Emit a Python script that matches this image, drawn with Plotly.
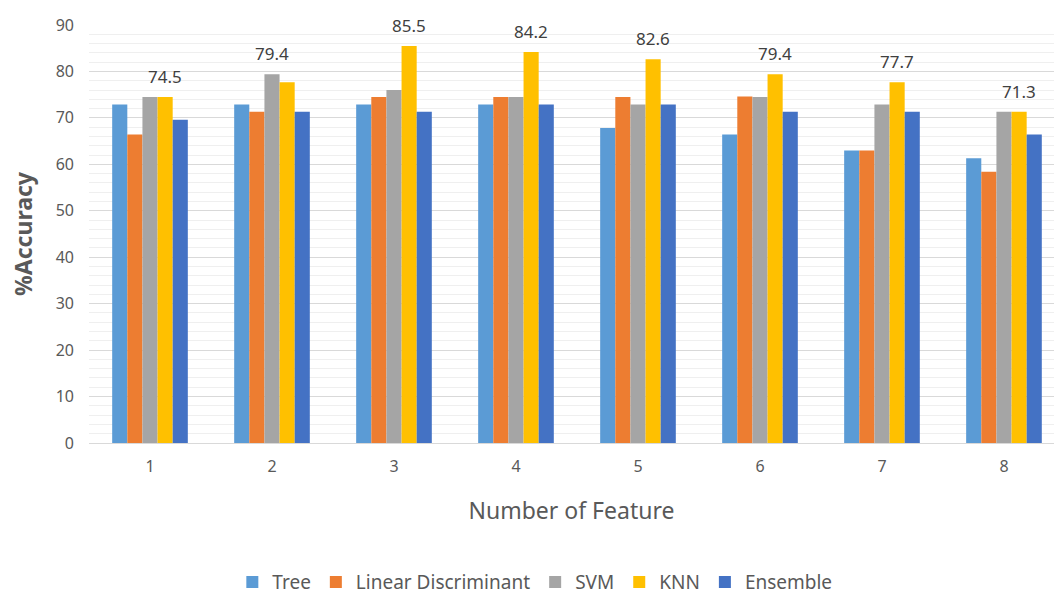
import plotly.graph_objects as go

features = [1, 2, 3, 4, 5, 6, 7, 8]
tick_labels = ["1", "2", "3", "4", "5", "6", "7", "8"]

tree = [72.9, 72.9, 72.9, 72.9, 67.8, 66.4, 63.0, 61.3]
linear_discriminant = [66.4, 71.3, 74.5, 74.5, 74.5, 74.6, 63.0, 58.4]
svm = [74.5, 79.4, 76.0, 74.5, 72.9, 74.5, 72.9, 71.3]
knn = [74.5, 77.7, 85.5, 84.2, 82.6, 79.4, 77.7, 71.3]
ensemble = [69.6, 71.3, 71.3, 72.9, 72.9, 71.3, 71.3, 66.4]

# the best classifier of each group carries the value label
best_model = ["KNN", "SVM", "KNN", "KNN", "KNN", "KNN", "KNN", "KNN"]

series = [
    ("Tree", tree, "#5B9BD5"),
    ("Linear Discriminant", linear_discriminant, "#ED7D31"),
    ("SVM", svm, "#A5A5A5"),
    ("KNN", knn, "#FFC000"),
    ("Ensemble", ensemble, "#4472C4"),
]

FONT = "Noto Sans"
GRAY = "#595959"
BAR_PX = 15.1  # width of one bar in pixels, for placing labels over a bar

fig = go.Figure()
for name, vals, color in series:
    fig.add_trace(go.Bar(
        x=features, y=vals, name=name,
        marker=dict(color=color, line=dict(width=0)),
    ))

names = [s[0] for s in series]
values = {s[0]: s[1] for s in series}
for i, xv in enumerate(features):
    model = best_model[i]
    yv = values[model][i]
    slot = names.index(model) - (len(names) - 1) / 2
    fig.add_annotation(
        x=xv, y=yv, text=f"{yv:.1f}", showarrow=False,
        xshift=slot * BAR_PX, yshift=7, yanchor="bottom",
        font=dict(family=FONT, size=17, color="#404040"),
    )

fig.update_layout(
    width=1054, height=594,
    margin=dict(l=89, r=0, t=25, b=151, autoexpand=False),
    paper_bgcolor="white", plot_bgcolor="white",
    barmode="group", bargap=0.38, bargroupgap=0,
    font=dict(family=FONT, color=GRAY),
    showlegend=True,
    legend=dict(
        orientation="h", x=0.462, xanchor="center", y=-0.333, yanchor="middle",
        font=dict(family=FONT, size=19, color=GRAY),
        traceorder="normal",
    ),
    xaxis=dict(
        range=[0.5, 8.41],
        tickmode="array", tickvals=features, ticktext=tick_labels,
        tickfont=dict(size=16, color=GRAY),
        showgrid=False, zeroline=False,
        showline=False, ticks="", ticklabelstandoff=12,
        automargin=False,
        title=dict(text="Number of Feature", font=dict(size=23, color=GRAY), standoff=26),
    ),
    yaxis=dict(
        range=[0, 90], dtick=10,
        tickfont=dict(size=16, color=GRAY),
        gridcolor="#d9d9d9", gridwidth=1,
        minor=dict(dtick=2, showgrid=True, gridcolor="#efefef", gridwidth=1),
        zeroline=True, zerolinecolor="#d9d9d9", zerolinewidth=1,
        ticks="", ticklabelstandoff=14,
        automargin=False,
        title=dict(text="<b>%Accuracy</b>", font=dict(size=23, color=GRAY), standoff=16),
    ),
)

fig.write_html("out.html")
